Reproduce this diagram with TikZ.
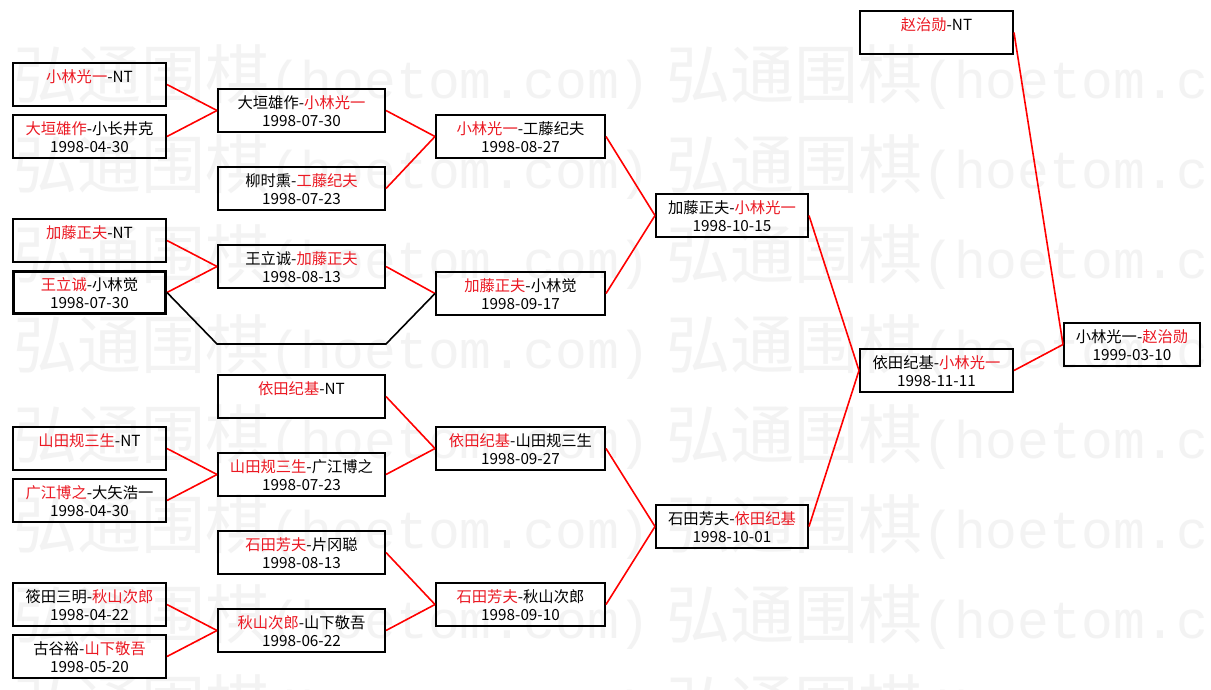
\documentclass[tikz,border=0pt]{standalone}
\usepackage{fontspec}
\newfontfamily\cjk{Noto Sans CJK SC}
\newfontfamily\wmmono{Liberation Mono}
\definecolor{wred}{RGB}{255,0,0}
\definecolor{tred}{RGB}{235,25,35}
\definecolor{wmgray}{RGB}{243,243,243}
\newcommand\R[1]{\textcolor{tred}{#1}}
% two-line match box: name, left, top, width(px), line1, line2
\newcommand\mtwo[6]{%
  \node[box, minimum width=#4pt-2pt] (#1) at (#2,#3) {};
  \node[txt] (#1a) at ([yshift=-20.5pt]#1.north) {#5};
  \node[txt] (#1b) at ([yshift=-38.5pt]#1.north) {#6};}
% one-line box (bye)
\newcommand\mone[5]{%
  \node[box, minimum width=#4pt-2pt] (#1) at (#2,#3) {};
  \node[txt] (#1a) at ([yshift=-20.5pt]#1.north) {#5};}
\begin{document}
\begin{tikzpicture}[x=1pt,y=-1pt,
  box/.style={draw=black,line width=2pt,minimum height=43pt,inner sep=0pt,anchor=north west},
  txt/.style={anchor=base,inner sep=0pt,font=\cjk\fontsize{15.3}{18}\selectfont},
  wire/.style={draw=wred,line width=1.6pt},
  blackwire/.style={draw=black,line width=1.6pt},
  wm/.style={anchor=base west,inner sep=0pt,text=wmgray}]
\useasboundingbox (0,0) rectangle (1211,689);
\clip (0,0) rectangle (1211,689);
\fill[white] (0,0) rectangle (1211,689);
% watermark
\foreach \k in {0,...,7}{\foreach \c in {0,1}{
  \node[wm] (wm\k\c) at ({13+653*\c},{98+90*\k})
   {\cjk\fontsize{64}{64}\selectfont 弘通围棋\wmmono\fontsize{53}{64}\selectfont (hoetom.com)};}}
% column 1
\mone{A1}{12}{62}{155}{\R{小林光一}-NT}
\mtwo{A2}{12}{114}{155}{\R{大垣雄作}-小长井克}{1998-04-30}
\mone{A3}{12}{218}{155}{\R{加藤正夫}-NT}
\node[box, line width=3pt, minimum width=152pt, minimum height=42pt] (A4) at (12,270) {};
\node[txt] (A4a) at ([yshift=-20.5pt]A4.north) {\R{王立诚}-小林觉};
\node[txt] (A4b) at ([yshift=-38.5pt]A4.north) {1998-07-30};
\mone{A5}{12}{426}{155}{\R{山田规三生}-NT}
\mtwo{A6}{12}{478}{155}{\R{广江博之}-大矢浩一}{1998-04-30}
\mtwo{A7}{12}{582}{155}{筱田三明-\R{秋山次郎}}{1998-04-22}
\mtwo{A8}{12}{634}{155}{古谷裕-\R{山下敬吾}}{1998-05-20}
% column 2
\mtwo{B1}{217}{88}{169}{大垣雄作-\R{小林光一}}{1998-07-30}
\mtwo{B2}{217}{166}{169}{柳时熏-\R{工藤纪夫}}{1998-07-23}
\mtwo{B3}{217}{244}{169}{王立诚-\R{加藤正夫}}{1998-08-13}
\mone{B5}{217}{374}{169}{\R{依田纪基}-NT}
\mtwo{B6}{217}{452}{169}{\R{山田规三生}-广江博之}{1998-07-23}
\mtwo{B7}{217}{530}{169}{\R{石田芳夫}-片冈聪}{1998-08-13}
\mtwo{B8}{217}{608}{169}{\R{秋山次郎}-山下敬吾}{1998-06-22}
% column 3
\mtwo{C1}{435}{114}{171}{\R{小林光一}-工藤纪夫}{1998-08-27}
\mtwo{C2}{435}{271}{171}{\R{加藤正夫}-小林觉}{1998-09-17}
\mtwo{C3}{435}{426}{171}{\R{依田纪基}-山田规三生}{1998-09-27}
\mtwo{C4}{435}{582}{171}{\R{石田芳夫}-秋山次郎}{1998-09-10}
% column 4
\mtwo{D1}{655}{193}{154}{加藤正夫-\R{小林光一}}{1998-10-15}
\mtwo{D2}{655}{504}{154}{石田芳夫-\R{依田纪基}}{1998-10-01}
% column 5
\mone{E0}{859}{10}{155}{\R{赵治勋}-NT}
\mtwo{E1}{859}{348}{155}{依田纪基-\R{小林光一}}{1998-11-11}
% column 6
\mtwo{F}{1063}{322}{138}{小林光一-\R{赵治勋}}{1999-03-10}
% connectors
\draw[wire] (A1.east) -- (B1.west);
\draw[wire] (A2.east) -- (B1.west);
\draw[wire] (A3.east) -- (B3.west);
\draw[wire] (A4.east) -- (B3.west);
\draw[wire] (A5.east) -- (B6.west);
\draw[wire] (A6.east) -- (B6.west);
\draw[wire] (A7.east) -- (B8.west);
\draw[wire] (A8.east) -- (B8.west);
\draw[wire] (B1.east) -- (C1.west);
\draw[wire] (B2.east) -- (C1.west);
\draw[wire] (B3.east) -- (C2.west);
\draw[wire] (B5.east) -- (C3.west);
\draw[wire] (B6.east) -- (C3.west);
\draw[wire] (B7.east) -- (C4.west);
\draw[wire] (B8.east) -- (C4.west);
\draw[wire] (C1.east) -- (D1.west);
\draw[wire] (C2.east) -- (D1.west);
\draw[wire] (C3.east) -- (D2.west);
\draw[wire] (C4.east) -- (D2.west);
\draw[wire] (D1.east) -- (E1.west);
\draw[wire] (D2.east) -- (E1.west);
\draw[wire] (E0.east) -- (F.west);
\draw[wire] (E1.east) -- (F.west);
\coordinate (bk1) at (217,344);
\coordinate (bk2) at (386,344);
\draw[blackwire, line join=miter] (A4.east) -- (bk1) -- (bk2) -- (C2.west);
\end{tikzpicture}
\end{document}
